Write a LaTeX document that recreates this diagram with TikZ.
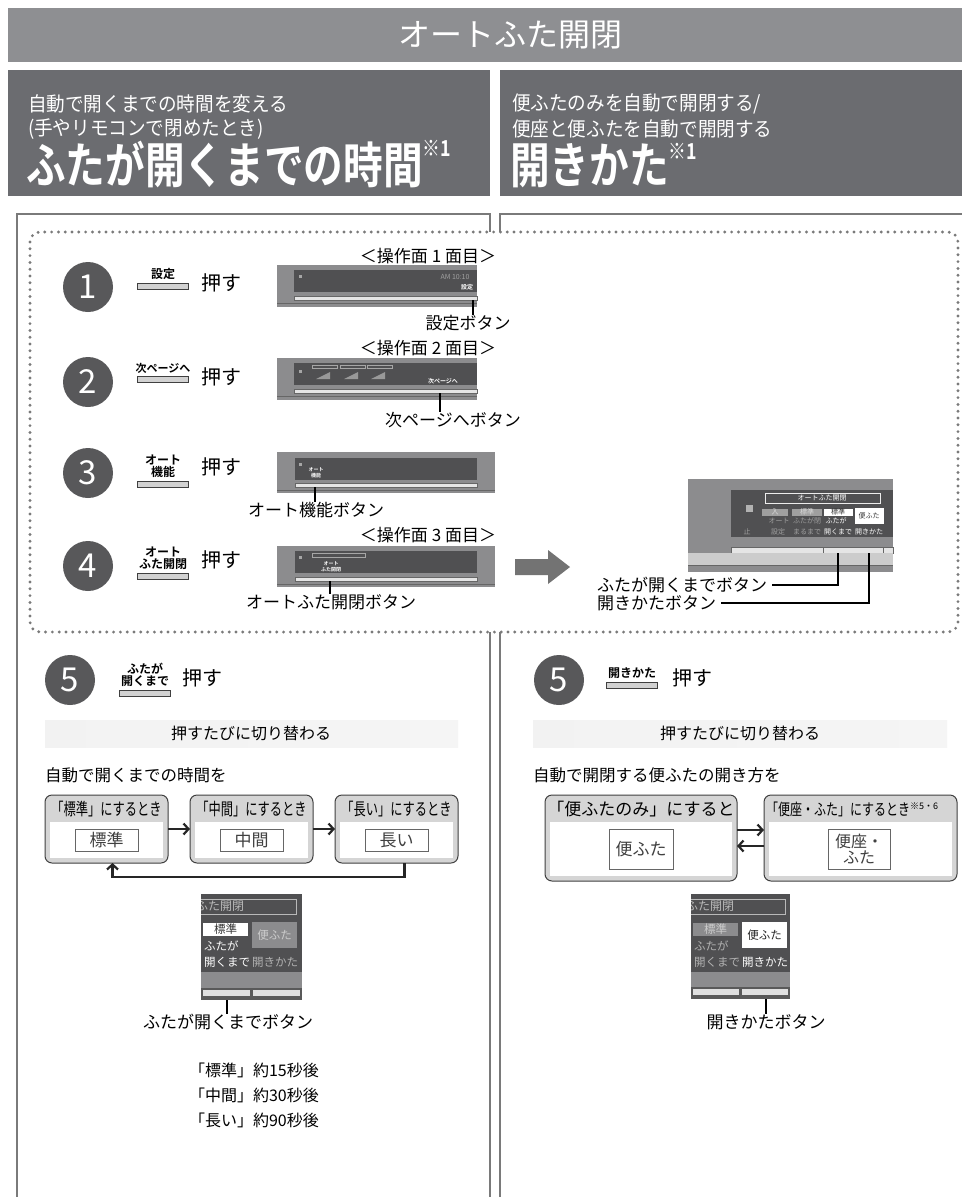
\documentclass[tikz,border=0pt]{standalone}
\usepackage{fontspec}
\setmainfont{Noto Sans CJK JP}[BoldFont={Noto Sans CJK JP Bold}]
\usepackage{graphicx}
\usetikzlibrary{positioning,arrows.meta}

\definecolor{bannergray}{HTML}{8E8F92}
\definecolor{headgray}{HTML}{6B6C70}
\definecolor{framegray}{HTML}{7A7A7A}
\definecolor{stepgray}{HTML}{58585A}
\definecolor{screengray}{HTML}{505052}
\definecolor{bodygray}{HTML}{8C8C8E}
\definecolor{modegray}{HTML}{D5D5D5}
\definecolor{dimtext}{HTML}{A0A0A0}

\newcommand\fsz[1]{\fontsize{#1pt}{#1pt}\selectfont}
\newcommand\narrow[2][0.85]{\scalebox{#1}[1]{#2}}

\begin{document}
\begin{tikzpicture}[x=1pt, y=-1pt,
  every node/.style={inner sep=0pt, outer sep=0pt},
  stepnum/.style={circle, fill=stepgray, minimum size=50pt, text=white, font=\fsz{33}},
  btnbar/.style={draw=black!75, fill=gray!35, line width=0.8pt, minimum width=51pt, minimum height=6pt},
  btnlabel/.style={font=\fsz{12}\bfseries, align=center},
  pushtext/.style={font=\fsz{20}},
  callout/.style={font=\fsz{17}},
  leader/.style={draw=black, line width=1.4pt},
  frame/.style={draw=framegray, line width=2.8pt},
  flow/.style={draw=black!85, line width=2.2pt, -{Straight Barb[length=5pt,width=11pt]}},
  modebox/.style={draw=black!75, fill=modegray, rounded corners=7pt, line width=1pt},
  valuebox/.style={draw=black!60, fill=white, line width=0.8pt, font=\fsz{17}, text=black!75, align=center},
  tiny/.style={font=\fsz{7}, text=dimtext},
  minitext/.style={font=\fsz{11.5}}]

\useasboundingbox (0,0) rectangle (962,1197);
\fill[white] (0,0) rectangle (962,1197);

\fill[bannergray] (8,8) rectangle (962,62);
\node[text=white, font=\fsz{32}] (title) at (510,35) {オートふた開閉};

\fill[headgray] (8,70) rectangle (490,196);
\fill[headgray] (500,70) rectangle (962,196);
\node[anchor=west, text=white, font=\fsz{20}] (leadA1) at (28,104) {\narrow[0.93]{自動で開くまでの時間を変える}};
\node[anchor=west, text=white, font=\fsz{20}] (leadA2) at (28,129) {\narrow[0.93]{(手やリモコンで閉めたとき)}};
\node[anchor=base west, text=white, font=\fsz{49}\bfseries] (headA) at (26,183) {\narrow[0.81]{ふたが開くまでの時間}};
\node[anchor=north west, text=white, font=\fsz{22}\bfseries] (noteA) at (headA.north east) {\narrow[0.81]{※1}};
\node[anchor=west, text=white, font=\fsz{20}] (leadB1) at (512,104) {\narrow[0.93]{便ふたのみを自動で開閉する/}};
\node[anchor=west, text=white, font=\fsz{20}] (leadB2) at (512,129) {\narrow[0.93]{便座と便ふたを自動で開閉する}};
\node[anchor=base west, text=white, font=\fsz{49}\bfseries] (headB) at (510,183) {\narrow[0.81]{開きかた}};
\node[anchor=north west, text=white, font=\fsz{22}\bfseries] (noteB) at (headB.north east) {\narrow[0.81]{※1}};

\draw[frame] (17,1197) -- (17,214) -- (490,214) -- (490,232);
\draw[frame] (500,232) -- (500,214) -- (962,214);
\draw[frame] (490,632) -- (490,1197);
\draw[frame] (500,632) -- (500,1197);
\fill[white] (30,232) rectangle (958,632);
\draw[framegray, line width=3.2pt, dash pattern=on 0pt off 6.8pt, line cap=round, rounded corners=10pt] (30,232) rectangle (958,632);

\node[stepnum] (s1) at (88,287) {1};
\node[btnbar] (b1) at (163,286) {};
\node[btnlabel, above=3pt of b1] (t1) {設定};
\node[pushtext] (p1) at (221,283) {押す};
\node[callout] (h1) at (428,256) {＜操作面 1 面目＞};
\fill[bodygray] (277,265) rectangle (477,307);
\fill[screengray] (294,270) rectangle (477,292);
\fill[gray!20] (294,296) rectangle (477,300);
\draw[black!60, line width=0.6pt] (294,296) rectangle (477,300);
\draw[black!60, line width=0.6pt] (277,303) -- (477,303);
\fill[gray!70] (299,275) rectangle (302,278);
\node[tiny] (am1) at (455,277) {AM 10:10};
\node[font=\fsz{6}\bfseries, text=white] (set1) at (467,287) {設定};
\coordinate (k1) at (473,300);
\node[callout] (l1) at (468,323) {設定ボタン};
\draw[leader] (k1) -- (k1 |- l1.north);

\node[stepnum] (s2) at (88,382) {2};
\node[btnbar] (b2) at (163,379) {};
\node[btnlabel, above=3pt of b2, font=\fsz{11}\bfseries] (t2) {次ページへ};
\node[pushtext] (p2) at (221,377) {押す};
\node[callout] (h2) at (428,348) {＜操作面 2 面目＞};
\fill[bodygray] (277,358) rectangle (477,400);
\fill[screengray] (294,363) rectangle (477,385);
\fill[gray!20] (294,389) rectangle (477,393);
\draw[black!60, line width=0.6pt] (294,389) rectangle (477,393);
\draw[black!60, line width=0.6pt] (277,396) -- (477,396);
\fill[gray!70] (299,370) rectangle (302,373);
\draw[gray!70, line width=0.5pt] (312,365) rectangle (337,368);
\draw[gray!70, line width=0.5pt] (340,365) rectangle (365,368);
\draw[gray!70, line width=0.5pt] (367,365) rectangle (392,368);
\fill[gray!80] (316,379) -- (330,379) -- (330,372) -- cycle;
\fill[gray!80] (344,379) -- (358,379) -- (358,372) -- cycle;
\fill[gray!80] (371,379) -- (385,379) -- (385,372) -- cycle;
\node[font=\fsz{6}\bfseries, text=white] (next2) at (443,381) {次ページへ};
\coordinate (k2) at (440,393);
\node[callout] (l2) at (453,420) {次ページへボタン};
\draw[leader] (k2) -- (k2 |- l2.north);

\node[stepnum] (s3) at (88,473) {3};
\node[btnbar] (b3) at (163,484) {};
\node[btnlabel, above=3pt of b3] (t3) {オート\\機能};
\node[pushtext] (p3) at (221,467) {押す};
\fill[bodygray] (277,452) rectangle (495,493);
\fill[screengray] (295,458) rectangle (477,480);
\fill[gray!20] (295,483) rectangle (477,487);
\draw[black!60, line width=0.6pt] (295,483) rectangle (477,487);
\draw[black!60, line width=0.6pt] (277,490) -- (495,490);
\fill[gray!70] (299,463) rectangle (302,466);
\node[font=\fsz{5}\bfseries, text=white] (auto3) at (316,470) {オート};
\node[font=\fsz{5}\bfseries, text=white] (func3) at (316,476) {機能};
\coordinate (k3) at (315,487);
\node[callout] (l3) at (316,510) {オート機能ボタン};
\draw[leader] (k3) -- (k3 |- l3.north);

\node[callout] (h4) at (428,535) {＜操作面 3 面目＞};
\node[stepnum] (s4) at (88,566) {4};
\node[btnbar] (b4) at (163,576) {};
\node[btnlabel, above=3pt of b4] (t4) {オート\\ふた開閉};
\node[pushtext] (p4) at (221,560) {押す};
\fill[bodygray] (277,546) rectangle (495,587);
\fill[screengray] (295,551) rectangle (477,573);
\fill[gray!20] (295,577) rectangle (477,581);
\draw[black!60, line width=0.6pt] (295,577) rectangle (477,581);
\draw[black!60, line width=0.6pt] (277,584) -- (495,584);
\fill[gray!70] (299,556) rectangle (302,559);
\draw[gray!70, line width=0.5pt] (312,553) rectangle (365,557);
\node[font=\fsz{5}\bfseries, text=white] (auto4) at (331,564) {オート};
\node[font=\fsz{5}\bfseries, text=white] (lid4) at (331,570) {ふた開閉};
\coordinate (k4) at (330,581);
\node[callout] (l4) at (331,602) {オートふた開閉ボタン};
\draw[leader] (k4) -- (k4 |- l4.north);

\fill[black!55] (515,559) -- (548,559) -- (548,550) -- (570,567) -- (548,584) -- (548,575) -- (515,575) -- cycle;

\fill[bodygray] (688,479) rectangle (893,572);
\fill[screengray] (731,490) rectangle (893,537);
\fill[gray!60] (746,505) rectangle (753,512);
\draw[white!85!gray, line width=0.7pt] (765,493) rectangle (880,503);
\node[font=\fsz{7}, text=white] (rp0) at (822,498) {オートふた開閉};
\node[fill=gray!75, minimum width=26pt, minimum height=7pt, font=\fsz{7}, text=gray!30] (rp1) at (775,512) {入};
\node[fill=gray!75, minimum width=30pt, minimum height=7pt, font=\fsz{7}, text=gray!30] (rp2) at (807,512) {標準};
\node[fill=white, minimum width=29pt, minimum height=7pt, font=\fsz{7}, text=black!80] (rp3) at (838,512) {標準};
\node[fill=white, minimum width=29pt, minimum height=16pt, font=\fsz{7}, text=black!80] (rp4) at (869,516) {便ふた};
\node[tiny] (rp5) at (779,521) {オート};
\node[tiny] (rp6) at (807,521) {ふたが閉};
\node[font=\fsz{7}, text=white] (rp7) at (836,521) {ふたが};
\node[tiny] (rp8) at (747,532) {止};
\node[tiny] (rp9) at (778,532) {設定};
\node[tiny] (rp10) at (807,532) {まるまで};
\node[font=\fsz{7}, text=white] (rp11) at (838,532) {開くまで};
\node[font=\fsz{7}, text=white] (rp12) at (869,532) {開きかた};
\fill[gray!20] (731,547) rectangle (893,553);
\draw[black!60, line width=0.6pt] (731,547) rectangle (893,553);
\draw[black!60, line width=0.6pt] (823,547) -- (823,553) (883,547) -- (883,553);
\fill[gray!40] (688,553) rectangle (893,565);
\draw[black!60, line width=0.6pt] (688,565) -- (893,565);
\coordinate (k6) at (838,553);
\coordinate (k7) at (869,553);
\node[anchor=west, callout] (l6) at (597,585) {ふたが開くまでボタン};
\node[anchor=west, callout] (l7) at (597,603) {開きかたボタン};
\draw[leader] ([xshift=5pt]l6.east) -| (k6);
\draw[leader] ([xshift=5pt]l7.east) -| (k7);

\node[stepnum] (s5a) at (70,680) {5};
\node[btnbar] (b5a) at (145,693) {};
\node[btnlabel, above=3pt of b5a] (t5a) {ふたが\\開くまで};
\node[pushtext] (p5a) at (202,678) {押す};
\shade[left color=gray!10, middle color=gray!40, right color=gray!8] (45,720) rectangle (458,747);
\node[font=\fsz{16}] (sw1) at (251,733) {押すたびに切り替わる};
\node[anchor=west, font=\fsz{16.5}] (q1) at (45,775) {自動で開くまでの時間を};

\node[modebox, minimum width=123pt, minimum height=68pt] (m1) at (106.5,829) {};
\node[modebox, minimum width=123pt, minimum height=68pt] (m2) at (251.5,829) {};
\node[modebox, minimum width=123pt, minimum height=68pt] (m3) at (396.5,829) {};
\fill[white] (50,822) rectangle (163,858);
\fill[white] (195,822) rectangle (308,858);
\fill[white] (340,822) rectangle (453,858);
\node[font=\fsz{17}] (m1h) at (106.5,809) {\narrow[0.72]{「標準」にするとき}};
\node[font=\fsz{17}] (m2h) at (251.5,809) {\narrow[0.72]{「中間」にするとき}};
\node[font=\fsz{17}] (m3h) at (396.5,809) {\narrow[0.72]{「長い」にするとき}};
\node[valuebox, minimum width=63pt, minimum height=22pt] (v1) at (106.5,840) {標準};
\node[valuebox, minimum width=63pt, minimum height=22pt] (v2) at (251.5,840) {中間};
\node[valuebox, minimum width=63pt, minimum height=22pt] (v3) at (396.5,840) {長い};
\draw[flow] (m1.east) -- (m2.west);
\draw[flow] (m2.east) -- (m3.west);
\draw[flow] ([xshift=8pt]m3.south) |- ([xshift=6pt,yshift=-14pt]m1.south) -- ([xshift=6pt]m1.south);

\begin{scope}
\clip (201,894) rectangle (302,1000);
\fill[screengray] (201,894) rectangle (302,972);
\fill[bodygray] (201,972) rectangle (302,990);
\fill[black!65] (201,988) rectangle (302,1000);
\fill[gray!25] (203,990) rectangle (250,996);
\fill[gray!25] (253,990) rectangle (300,996);
\draw[gray!55, line width=0.8pt] (190,899) rectangle (296,914);
\node[anchor=west, font=\fsz{12}, text=gray!55] (ms0) at (196,906.5) {ふた開閉};
\end{scope}
\node[fill=white, minimum width=45pt, minimum height=13pt, minitext, text=black!80] (ms1) at (225.5,929.5) {標準};
\node[fill=bodygray, minimum width=45pt, minimum height=26pt, minitext, text=gray!40] (ms2) at (274.5,935) {便ふた};
\node[anchor=west, minitext, text=white] (ms3) at (204,946) {ふたが};
\node[anchor=west, minitext, text=white] (ms4) at (204,962) {開くまで};
\node[anchor=west, minitext, text=gray!60] (ms5) at (252,962) {開きかた};
\coordinate (k5a) at (227,1000);
\node[callout] (l5a) at (228,1022) {ふたが開くまでボタン};
\draw[leader] (k5a) -- (k5a |- l5a.north);

\node[anchor=west, font=\fsz{16}] (w1) at (189,1070) {「標準」約15秒後};
\node[anchor=west, font=\fsz{16}] (w2) at (189,1095) {「中間」約30秒後};
\node[anchor=west, font=\fsz{16}] (w3) at (189,1120) {「長い」約90秒後};

\node[stepnum] (s5b) at (559,680) {5};
\node[btnbar] (b5b) at (632,685) {};
\node[btnlabel, above=3pt of b5b] (t5b) {開きかた};
\node[pushtext] (p5b) at (692,678) {押す};
\shade[left color=gray!10, middle color=gray!40, right color=gray!8] (533,720) rectangle (947,747);
\node[font=\fsz{16}] (sw2) at (740,733) {押すたびに切り替わる};
\node[anchor=west, font=\fsz{16.5}] (q2) at (533,775) {自動で開閉する便ふたの開き方を};

\node[modebox, minimum width=192pt, minimum height=86pt] (mA) at (641,838) {};
\node[modebox, minimum width=193pt, minimum height=86pt] (mB) at (860.5,838) {};
\fill[white] (550,822) rectangle (732,876);
\fill[white] (769,822) rectangle (952,876);
\node[font=\fsz{17}] (mAh) at (641,809) {「便ふたのみ」にすると};
\node[anchor=west, font=\fsz{16}] (mBh) at (766,809) {\narrow[0.75]{「便座・ふた」にするとき}\raisebox{6pt}{\fsz{9}※5・6}};
\node[valuebox, minimum width=64pt, minimum height=40pt] (vA) at (641,849) {便ふた};
\node[valuebox, minimum width=62pt, minimum height=40pt, font=\fsz{16}] (vB) at (859,849) {便座・\\ふた};
\draw[flow] ([yshift=8pt]mA.east) -- ([yshift=8pt]mB.west);
\draw[flow] ([yshift=-8pt]mB.west) -- ([yshift=-8pt]mA.east);

\begin{scope}
\clip (691,894) rectangle (790,999);
\fill[screengray] (691,894) rectangle (790,972);
\fill[bodygray] (691,972) rectangle (790,988);
\fill[black!65] (691,987) rectangle (790,999);
\fill[gray!25] (693,989) rectangle (739,995);
\fill[gray!25] (742,989) rectangle (788,995);
\draw[gray!55, line width=0.8pt] (680,899) rectangle (785,914);
\node[anchor=west, font=\fsz{12}, text=gray!55] (mr0) at (686,906.5) {ふた開閉};
\end{scope}
\node[fill=bodygray, minimum width=45pt, minimum height=13pt, minitext, text=gray!40] (mr1) at (715.5,929.5) {標準};
\node[fill=white, minimum width=45pt, minimum height=26pt, minitext, text=black!85] (mr2) at (764.5,935) {便ふた};
\node[anchor=west, minitext, text=gray!60] (mr3) at (694,946) {ふたが};
\node[anchor=west, minitext, text=gray!60] (mr4) at (694,962) {開くまで};
\node[anchor=west, minitext, text=white] (mr5) at (742,962) {開きかた};
\coordinate (k5b) at (766,999);
\node[callout] (l5b) at (766,1022) {開きかたボタン};
\draw[leader] (k5b) -- (k5b |- l5b.north);
\end{tikzpicture}
\end{document}
